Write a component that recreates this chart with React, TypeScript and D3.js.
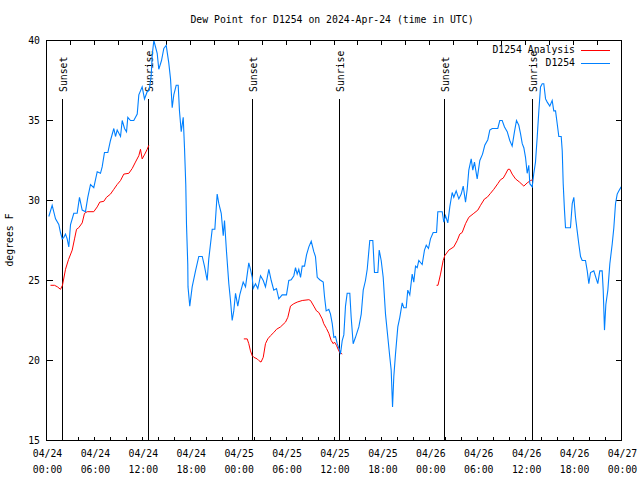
import React from "react";
import * as d3 from "d3";

// hours since 2024-04-24 00:00 UTC, dew point (°F)
const obsHours = [0.29,0.71,1.13,1.54,1.75,1.97,2.17,2.38,2.59,2.79,3.01,3.42,3.84,4.13,4.47,4.88,5.17,5.51,5.92,6.35,6.76,6.97,7.26,7.68,8.01,8.43,8.64,8.85,9.27,9.48,9.77,10.02,10.18,10.52,10.93,11.36,11.56,11.98,12.27,12.61,12.86,13.11,13.24,13.44,13.86,14.06,14.40,14.69,14.99,15.31,15.53,15.74,15.94,16.24,16.49,16.65,16.87,17.12,17.28,17.44,17.53,17.69,17.72,17.94,18.24,18.66,19.07,19.50,19.78,20.12,20.32,20.75,21.08,21.37,21.58,21.88,22.13,22.29,22.54,22.83,23.04,23.25,23.45,23.67,23.95,24.20,24.63,24.92,25.33,25.54,25.76,25.88,26.17,26.46,26.80,27.14,27.42,27.84,28.14,28.46,28.80,29.09,29.51,30.05,30.34,30.64,30.97,31.18,31.39,31.59,31.81,32.02,32.31,32.56,32.85,33.15,33.47,33.68,33.90,34.22,34.65,34.81,35.02,35.35,35.56,35.78,35.98,36.19,36.40,36.73,36.81,37.03,37.23,37.44,37.65,37.98,38.15,38.40,38.69,39.11,39.41,39.66,39.94,40.16,40.48,40.86,41.07,41.49,41.66,41.91,42.16,42.45,42.74,42.99,43.16,43.33,43.49,43.70,43.99,44.24,44.54,44.74,45.04,45.24,45.49,45.79,45.99,46.21,46.42,46.62,47.04,47.33,47.55,47.83,48.08,48.42,48.84,49.00,49.55,49.75,49.96,50.25,50.50,50.80,51.00,51.30,51.63,51.93,52.18,52.47,52.68,52.88,53.18,53.38,53.59,53.93,54.26,54.60,54.88,55.26,55.51,55.81,56.51,56.76,57.06,57.35,57.69,58.01,58.31,58.60,58.85,59.14,59.35,59.57,59.77,59.98,60.19,60.39,60.52,60.82,61.02,61.23,61.45,61.65,61.86,62.07,62.27,62.49,62.70,63.02,63.32,63.52,63.74,63.95,64.15,64.45,64.58,64.70,64.86,64.99,65.40,65.61,65.83,66.03,66.24,66.45,66.65,66.87,67.08,67.49,67.71,67.91,68.12,68.53,69.03,69.28,69.58,69.71,69.87,70.04,70.29,70.54,70.84,71.04,71.25,71.46,71.66,71.96];
const obsValues = [29.0,29.7,28.85,28.5,28.0,27.6,27.7,27.9,27.6,27.1,28.5,29.2,29.2,30.2,29.4,29.3,30.2,31.0,30.8,31.8,31.7,32.1,33.0,33.0,33.75,34.5,34.0,34.4,34.0,35.0,34.5,34.3,35.2,35.0,35.0,35.4,36.6,37.1,36.35,36.8,36.9,37.8,39.1,40.0,39.2,38.2,38.75,39.5,39.7,38.6,37.6,35.8,36.6,37.2,37.2,35.6,34.3,35.2,33.3,31.0,28.5,26.0,24.6,23.4,24.6,25.6,26.5,26.5,25.9,25.0,26.35,28.2,28.2,30.4,29.8,29.2,27.8,28.75,26.8,24.8,23.75,22.5,23.1,24.2,23.4,24.1,24.9,24.6,26.1,25.7,25.2,24.5,24.8,24.5,25.3,25.0,24.6,25.7,25.0,24.4,24.5,23.85,24.1,24.1,25.0,25.05,25.3,25.8,25.4,25.7,25.2,25.9,25.9,26.6,27.1,27.45,26.8,26.5,25.2,25.05,24.9,24.0,23.1,23.2,22.9,22.3,21.45,21.5,21.05,20.6,20.4,21.25,21.6,23.4,24.2,24.2,22.7,21.05,21.45,22.1,22.9,24.4,25.0,25.7,27.5,27.5,25.5,25.5,26.9,26.25,25.2,22.9,21.45,20.2,19.4,17.1,19.0,20.4,22.1,22.7,23.6,23.3,23.3,24.4,24.1,25.4,24.9,25.9,25.8,26.25,26.0,26.9,27.2,27.0,27.6,28.0,28.0,29.3,29.3,28.65,29.05,28.6,29.6,30.5,30.2,30.6,30.1,30.4,30.9,29.9,30.7,31.9,32.6,31.9,32.4,31.35,32.5,32.9,33.45,33.8,34.4,34.5,34.5,35.0,35.0,34.6,34.3,33.75,33.4,34.3,35.0,34.7,34.2,33.55,33.3,32.7,31.7,32.2,31.05,30.85,31.7,32.4,34.0,35.6,37.1,37.3,37.3,36.35,36.15,35.9,36.25,35.6,35.6,34.8,34.0,34.0,33.1,31.05,29.4,28.3,28.3,28.3,29.8,30.2,28.95,28.1,27.3,26.5,26.25,26.25,25.6,24.8,25.5,25.6,24.8,25.6,25.6,24.4,21.9,23.5,24.4,26.05,27.3,28.3,29.8,30.4,30.6,30.85];

// analysis segments (hours since start, value)
const anaHours1 = [0.50,1.00,1.38,1.75,2.00,2.38,2.75,3.22,3.51,3.76,4.04,4.47,4.76,5.10,5.92,6.35,6.67,7.18,7.51,8.01,8.43,8.85,9.27,9.68,10.31,10.73,11.14,11.56,11.77,11.98,12.31,12.61,12.81];
const anaValues1 = [24.7,24.7,24.6,24.45,24.7,25.7,26.3,26.9,27.6,28.2,28.3,28.6,29.2,29.3,29.3,29.6,29.9,29.95,30.2,30.4,30.7,31.0,31.25,31.65,31.7,32.0,32.4,32.8,33.2,32.6,32.9,33.2,33.45];
const anaHours2 = [24.71,25.13,25.33,25.54,25.76,25.96,26.38,26.58,26.86,27.14,27.42,27.71,28.05,28.46,28.80,29.30,29.93,30.22,30.55,30.97,31.39,32.02,32.85,33.06,33.47,33.81,34.10,34.52,34.72,35.06,35.35,35.65,35.90,36.06,36.31,36.60,36.73,37.03];
const anaValues2 = [21.35,21.35,21.05,20.6,20.3,20.2,20.1,20.0,19.9,20.2,21.05,21.35,21.55,21.75,21.95,22.1,22.4,22.7,23.4,23.55,23.65,23.75,23.8,23.75,23.4,23.1,23.0,22.6,22.3,22.0,21.7,21.25,21.05,21.15,20.95,20.6,20.5,20.4];
const anaHours3 = [48.84,49.02,49.34,49.67,49.87,50.38,51.00,51.43,51.75,52.05,52.47,52.88,53.51,54.01,54.35,54.85,55.18,55.60,56.01,56.51,56.85,57.19,57.48,57.79,58.01,58.31,58.73,59.23,59.77,60.19,60.61,60.89];
const anaValues3 = [24.7,24.7,25.4,26.25,26.55,26.9,27.1,27.5,27.9,28.0,28.55,28.95,29.2,29.4,29.7,30.1,30.2,30.45,30.7,31.05,31.3,31.4,31.65,31.95,31.95,31.65,31.35,31.15,30.9,31.1,31.25,31.3];

const sunHours = [1.95, 12.82, 25.83, 36.75, 49.87, 60.8];
const sunLabels = ["Sunset", "Sunrise", "Sunset", "Sunrise", "Sunset", "Sunrise"];

const yTicks = [15, 20, 25, 30, 35, 40];
const titleText = "Dew Point for D1254 on 2024-Apr-24 (time in UTC)";
const yLabel = "degrees F";
const seriesNames = ["D1254 Analysis", "D1254"];

const START = Date.UTC(2024, 3, 24);
const toDate = (h: number) => new Date(START + h * 3600e3);

export default function App() {
  const W = 640, H = 480;
  const L = 46.5, R = 621.5, T = 40.5, B = 440.5;
  const x = d3.scaleUtc().domain([toDate(0), toDate(72)]).range([L, R]);
  const y = d3.scaleLinear().domain([15, 40]).range([B, T]);
  const font = "'DejaVu Sans Mono', 'Liberation Mono', monospace";
  const fs = 9.8;
  const RED = "#ff0000", BLUE = "#0080ff";

  const line = d3.line<[number, number]>().x(d => x(toDate(d[0]))).y(d => y(d[1]));
  const obs = obsHours.map((h, i) => [h, obsValues[i]] as [number, number]);
  const segs = [
    [anaHours1, anaValues1],
    [anaHours2, anaValues2],
    [anaHours3, anaValues3],
  ].map(([hs, vs]) => hs.map((h, i) => [h, vs[i]] as [number, number]));

  const bottomTicks = d3.range(0, 73, 2);
  const topTicks = d3.range(0, 73, 3);
  const labelTicks = d3.range(0, 73, 6);
  const fmtD = d3.utcFormat("%m/%d");
  const fmtT = d3.utcFormat("%H:%M");
  const px = (h: number) => Math.round(x(toDate(h)) - 0.5) + 0.5;

  return (
    <svg width={W} height={H} style={{ position: "absolute", left: 0, top: 0, background: "#fff" }} fontFamily={font} fontSize={fs}>
      <rect x={0} y={0} width={W} height={H} fill="#fff" />
      <text x={332} y={23} textAnchor="middle">{titleText}</text>
      <text transform={`translate(13,240) rotate(-90)`} textAnchor="middle">{yLabel}</text>

      {/* y ticks */}
      {yTicks.map(v => (
        <g key={"y" + v}>
          <line x1={L} x2={L + 6} y1={y(v)} y2={y(v)} stroke="#000" shapeRendering="crispEdges" />
          <line x1={R - 6} x2={R} y1={y(v)} y2={y(v)} stroke="#000" shapeRendering="crispEdges" />
          <text x={40} y={y(v)} dy="0.35em" textAnchor="end">{v}</text>
        </g>
      ))}
      {/* x ticks */}
      {bottomTicks.map(h => (
        <line key={"b" + h} x1={px(h)} x2={px(h)} y1={B} y2={B - 4} stroke="#000" shapeRendering="crispEdges" />
      ))}
      {topTicks.map(h => (
        <line key={"t" + h} x1={px(h)} x2={px(h)} y1={T} y2={T + 4} stroke="#000" shapeRendering="crispEdges" />
      ))}
      {labelTicks.map(h => (
        <g key={"l" + h}>
          <text x={x(toDate(h)) + 1} y={457} textAnchor="middle">{fmtD(toDate(h))}</text>
          <text x={x(toDate(h)) + 1} y={473} textAnchor="middle">{fmtT(toDate(h))}</text>
        </g>
      ))}

      {/* sun lines */}
      {sunHours.map((h, i) => {
        const sx = px(h);
        return (
          <g key={"s" + i}>
            <line x1={sx} x2={sx} y1={99} y2={B} stroke="#000" shapeRendering="crispEdges" />
            <text transform={`translate(${sx + 4},92) rotate(-90)`} textAnchor="start">{sunLabels[i]}</text>
          </g>
        );
      })}

      {/* data */}
      {segs.map((s, i) => (
        <path key={"a" + i} d={line(s) || ""} fill="none" stroke={RED} strokeWidth={1} />
      ))}
      <path d={line(obs) || ""} fill="none" stroke={BLUE} strokeWidth={1.1} />

      {/* legend */}
      <text x={575} y={50} dy="0.35em" textAnchor="end">{seriesNames[0]}</text>
      <line x1={581} x2={610} y1={50.5} y2={50.5} stroke={RED} shapeRendering="crispEdges" />
      <text x={575} y={63} dy="0.35em" textAnchor="end">{seriesNames[1]}</text>
      <line x1={581} x2={610} y1={63.5} y2={63.5} stroke={BLUE} shapeRendering="crispEdges" />

      {/* frame */}
      <rect x={L} y={T} width={R - L} height={B - T} fill="none" stroke="#000" shapeRendering="crispEdges" />
    </svg>
  );
}
